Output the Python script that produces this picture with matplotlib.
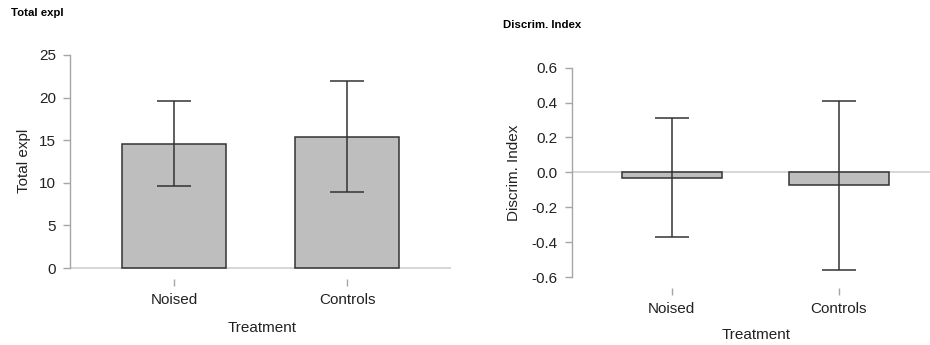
import matplotlib
matplotlib.use("Agg")
import matplotlib.pyplot as plt
import numpy as np

plt.rcParams['font.family'] = ['Liberation Sans', 'DejaVu Sans']

categories = ["Noised", "Controls"]
total_mean = [14.6, 15.4]
total_low = [9.6, 8.9]
total_high = [19.65, 21.9]
total_ticks = [0, 5, 10, 15, 20, 25]

discrim_mean = [-0.03, -0.074]
discrim_low = [-0.372, -0.558]
discrim_high = [0.313, 0.41]
discrim_ticks = [-0.6, -0.4, -0.2, 0.0, 0.2, 0.4, 0.6]

W, H = 930, 345
fig = plt.figure(figsize=(W / 100, H / 100), dpi=100)

BAR = "#bebebe"
EDGE = "#333333"
SPINE = "#a6a6a6"
ZERO = "#d0d0d0"


def panel(rect, means, lows, highs, ticks, ylim, ylabel, fmt, ylab_xy, xlab_xy, capsize):
    ax = fig.add_axes(rect)
    x = np.arange(len(categories))
    ax.axhline(0, color=ZERO, lw=1.2, zorder=0)
    ax.bar(x, means, width=0.6, color=BAR, edgecolor=EDGE, linewidth=1.1, zorder=2)
    m = np.array(means)
    yerr = np.vstack([m - np.array(lows), np.array(highs) - m])
    ax.errorbar(x, m, yerr=yerr, fmt='none', ecolor=EDGE, elinewidth=1.1,
                capsize=capsize, capthick=1.1, zorder=3)
    ax.set_xlim(-0.6, 1.6)
    ax.set_ylim(*ylim)
    for s in ['top', 'right', 'bottom']:
        ax.spines[s].set_visible(False)
    ax.spines['left'].set_color(SPINE)
    ax.spines['left'].set_linewidth(1.0)
    ax.spines['left'].set_bounds(ticks[0], ticks[-1])
    ax.set_yticks(ticks)
    ax.set_yticklabels([fmt.format(t) for t in ticks])
    ax.set_xticks(x)
    ax.set_xticklabels(categories)
    ax.tick_params(axis='both', colors=SPINE, labelcolor='#222222', labelsize=11,
                   length=5, width=1.0, pad=5)
    ax.set_ylabel(ylabel, fontsize=11, color='#222222')
    ax.set_xlabel("Treatment", fontsize=11, color='#222222')
    ax.yaxis.set_label_coords(*ylab_xy)
    ax.xaxis.set_label_coords(*xlab_xy)
    ax.patch.set_alpha(0)
    return ax


# left panel
l_x0, l_x1 = 70 / W, 451.3 / W
l_bot, l_top = (H - 279) / H, (H - 55) / H
panel([l_x0, l_bot, l_x1 - l_x0, l_top - l_bot], total_mean, total_low, total_high,
      total_ticks, (-1.29, 25), "Total expl", "{:g}", (-0.102, 0.527), (0.503, -0.187), 12.4)

# right panel
r_x0, r_x1 = 571.7 / W, 939 / W
r_bot, r_top = (H - 288) / H, (H - 67.7) / H
panel([r_x0, r_bot, r_x1 - r_x0, r_top - r_bot], discrim_mean, discrim_low, discrim_high,
      discrim_ticks, (-0.663, 0.6), "Discrim. Index", "{:.1f}", (-0.138, 0.524), (0.501, -0.183), 12.0)

fig.text(11 / W, 1 - 13 / H, "Total expl", fontsize=8.2, fontweight='bold', va='center', ha='left')
fig.text(503 / W, 1 - 25 / H, "Discrim. Index", fontsize=8.2, fontweight='bold', va='center', ha='left')

fig.savefig("out.png", dpi=100)
